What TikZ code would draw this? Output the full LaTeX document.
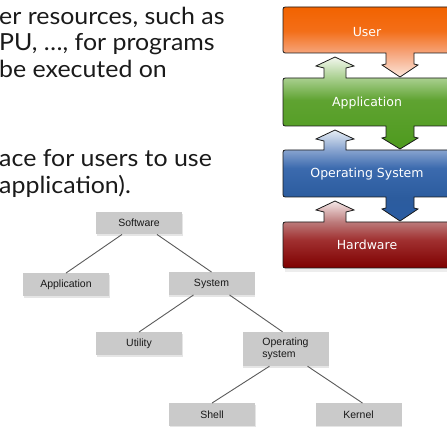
\documentclass[tikz,border=0pt]{standalone}
\usepackage{fontspec}
\setmainfont{Lato}
\newfontfamily\bodyfont{Lato}[FakeStretch=1.06]
\newfontfamily\boxfont{DejaVu Sans}
\newfontfamily\treefont{Liberation Sans}
\usetikzlibrary{calc,shadows}

% layer colours
\definecolor{uTop}{HTML}{F26300}
\definecolor{uMid}{HTML}{F36E18}
\definecolor{uBot}{HTML}{F6A57C}
\definecolor{uTip}{HTML}{FCE6DA}
\definecolor{aTip}{HTML}{F2F7EE}
\definecolor{aTop}{HTML}{A9CF8F}
\definecolor{aMid}{HTML}{5FA331}
\definecolor{aBot}{HTML}{4E9A1E}
\definecolor{oTip}{HTML}{E6EDF5}
\definecolor{oTop}{HTML}{87A3CF}
\definecolor{oMid}{HTML}{3B6AAE}
\definecolor{oBot}{HTML}{2C5C9E}
\definecolor{oEnd}{HTML}{2A5CA2}
\definecolor{hTip}{HTML}{F5E8E8}
\definecolor{hTop}{HTML}{BC7A7A}
\definecolor{hMid}{HTML}{A03030}
\definecolor{hBot}{HTML}{7E0000}
\definecolor{treegrey}{HTML}{CACACA}
\definecolor{treeline}{HTML}{5A5A5A}
\definecolor{bodyink}{HTML}{1A1A1A}

\pgfdeclareverticalshading{usershade}{100bp}{color(0bp)=(uTip); color(25bp)=(uTip); color(42bp)=(uBot); color(58bp)=(uMid); color(75bp)=(uTop); color(100bp)=(uTop)}
\pgfdeclareverticalshading{appshade}{100bp}{color(0bp)=(aBot); color(25bp)=(aBot); color(51.6bp)=(aMid); color(63.6bp)=(aTop); color(75bp)=(aTip); color(100bp)=(aTip)}
\pgfdeclareverticalshading{osshade}{100bp}{color(0bp)=(oEnd); color(25bp)=(oEnd); color(38bp)=(oBot); color(54bp)=(oMid); color(64bp)=(oTop); color(75bp)=(oTip); color(100bp)=(oTip)}
\pgfdeclareverticalshading{hwshade}{100bp}{color(0bp)=(hBot); color(25bp)=(hBot); color(46bp)=(hMid); color(59.3bp)=(hTop); color(75bp)=(hTip); color(100bp)=(hTip)}

% arrow parts of a layer outline
\newcommand\uparpart[2]{-- (324,#1) -- (324,#2+11) -- (316,#2+9) -- (335,#2) -- (354,#2+9) -- (346,#2+11) -- (346,#1)}
\newcommand\dnarpart[2]{-- (414,#1) -- (414,#1+11) -- (418,#1+12) -- (400,#2) -- (382,#1+12) -- (386,#1+11) -- (386,#1)}

\tikzset{
  layer/.style={draw=black!90, line width=0.8pt, line join=miter},
  layertext/.style={text=white, font=\boxfont\fontsize{12.5}{14}\selectfont, inner sep=0pt},
  bodytext/.style={text=bodyink, font=\bodyfont\fontsize{23.5}{28}\selectfont, inner sep=0pt, anchor=base west},
  treebox/.style={fill=treegrey, minimum width=86pt, minimum height=22.5pt, inner sep=0pt,
    text=black!90, font=\treefont\fontsize{10.5}{12}\selectfont,
    drop shadow={shadow xshift=0.5pt, shadow yshift=-2pt, fill=black!10, opacity=1}},
  treeedge/.style={draw=treeline, line width=0.9pt}
}

\begin{document}
\begin{tikzpicture}[x=1pt,y=-1pt]
\useasboundingbox (0,0) rectangle (447,427);

% ---------- left text ----------
\node[bodytext] (t1) at (-1,25) {er resources, such as};
\node[bodytext] (t2) at (-1,51) {PU, …, for programs};
\node[bodytext] (t3) at (-1,78) {be executed on};
\node[bodytext] (t4) at (-1,167) {ace for users to use};
\node[bodytext] (t5) at (-1,194) {application).};

% ---------- layer diagram ----------
\begin{scope}
\clip (0,0) rectangle (447,427);
% soft shadow under the stack
\fill[black!7] (285,266) rectangle (455,272);
% User
\shadedraw[layer, shading=usershade]
  (283,48) -- (283,12) .. controls (283,7) .. (288,7) -- (455,7) -- (455,53)
  \dnarpart{53}{77} -- (288,53) .. controls (283,53) .. (283,48) -- cycle;
% Application
\shadedraw[layer, shading=appshade]
  (283,121) -- (283,83) .. controls (283,78) .. (288,78) \uparpart{78}{57} -- (455,78) -- (455,126)
  \dnarpart{126}{149} -- (288,126) .. controls (283,126) .. (283,121) -- cycle;
% Operating System
\shadedraw[layer, shading=osshade]
  (283,192) -- (283,155) .. controls (283,150) .. (288,150) \uparpart{150}{130} -- (455,150) -- (455,197)
  \dnarpart{197}{221} -- (288,197) .. controls (283,197) .. (283,192) -- cycle;
% Hardware
\shadedraw[layer, shading=hwshade]
  (283,263) -- (283,227) .. controls (283,222) .. (288,222) \uparpart{222}{201} -- (455,222) -- (455,268)
  -- (288,268) .. controls (283,268) .. (283,263) -- cycle;
\end{scope}

\node[layertext] (user) at (367,32) {User};
\node[layertext] (appl) at (367,103) {Application};
\node[layertext] (opsys) at (367,174) {Operating System};
\node[layertext] (hard) at (367,245) {Hardware};

% ---------- tree ----------
\node[treebox] (sw) at (139,223) {Software};
\node[treebox] (app) at (66,284.5) {Application};
\node[treebox] (sys) at (211.5,283.5) {System};
\node[treebox] (util) at (139,343.5) {Utility};
\node[treebox, minimum height=34pt, align=left] (os) at (285.5,349) {Operating\\system};
\node[treebox] (shell) at (212,414.5) {Shell};
\node[treebox] (kernel) at (358.5,414.5) {Kernel};

\draw[treeedge] ([xshift=-17pt]sw.south) -- (app.north);
\draw[treeedge] ([xshift=18pt]sw.south) -- (sys.north);
\draw[treeedge] ([xshift=-18pt]sys.south) -- (util.north);
\draw[treeedge] ([xshift=18pt]sys.south) -- ([xshift=-3pt]os.north);
\draw[treeedge] ([xshift=-16pt]os.south) -- (shell.north);
\draw[treeedge] ([xshift=22pt]os.south) -- ([xshift=4pt]kernel.north);
\end{tikzpicture}
\end{document}
